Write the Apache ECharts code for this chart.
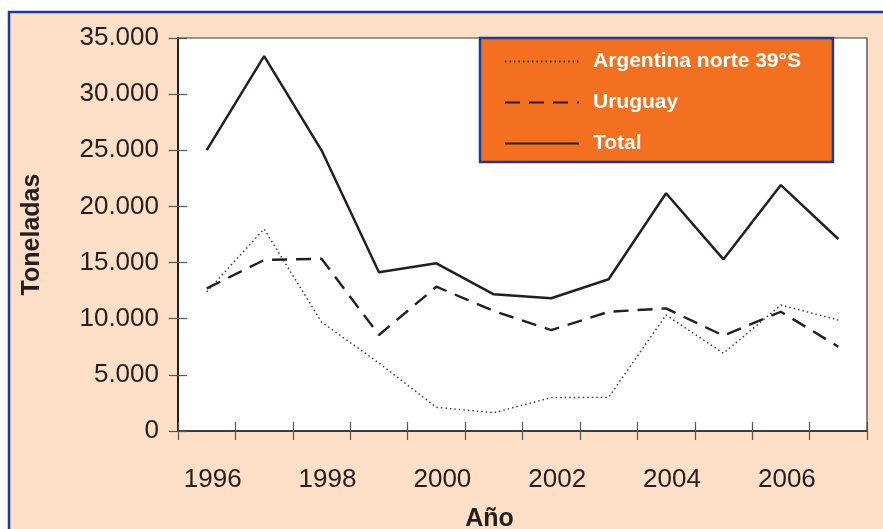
<!DOCTYPE html>
<html>
<head>
<meta charset="utf-8">
<script src="https://cdn.jsdelivr.net/npm/echarts@6/dist/echarts.min.js"></script>
<style>html,body{margin:0;padding:0;background:#fff;}#c{width:883px;height:529px;}</style>
</head>
<body>
<div id="c"></div>
<script>
var years = ['1996','1997','1998','1999','2000','2001','2002','2003','2004','2005','2006','2007'];
var argentina = [12400, 17990, 9700, 6050, 2110, 1630, 2970, 3000, 10330, 6920, 11220, 9880];
var uruguay   = [12700, 15230, 15340, 8550, 12850, 10690, 8990, 10620, 10920, 8490, 10620, 7510];
var total     = [25020, 33390, 25000, 14130, 14930, 12170, 11820, 13510, 21170, 15290, 21900, 17100];
var seriesNames = ['Argentina norte 39°S', 'Uruguay', 'Total'];
var yTitle = 'Toneladas';
var xTitle = 'Año';

var FONT = '"Liberation Sans", Arial, Helvetica, sans-serif';
var TXT = '#231f20';
function fmt(v){ return String(v).replace(/\B(?=(\d{3})+(?!\d))/g, '.'); }

var chart = echarts.init(document.getElementById('c'), null, {renderer:'canvas'});
chart.setOption({
  backgroundColor: '#ffffff',
  animation: false,
  graphic: [{
    type: 'rect', z: -100, silent: true,
    shape: {x: 9, y: 12, width: 900, height: 540},
    style: {fill: '#fddec6', stroke: '#1f3a8f', lineWidth: 2.5}
  }],
  grid: {left: 178, right: 16, top: 38, bottom: 98, show: true, containLabel: false, outerBoundsMode: 'none',
         backgroundColor: '#ffffff', borderColor: '#3a3a3a', borderWidth: 1.2},
  legend: {
    orient: 'vertical', left: 480, top: 38,
    data: seriesNames,
    backgroundColor: '#f37021', borderColor: '#1f3a8f', borderWidth: 2.5,
    padding: [13, 32, 8, 24],
    itemWidth: 74, itemHeight: 14, itemGap: 20,
    itemStyle: {opacity: 0},
    textStyle: {color: '#ffffff', fontFamily: FONT, fontWeight: 'bold', fontSize: 21, padding: [0,0,0,9]}
  },
  xAxis: [{
    type: 'category', data: years, position: 'bottom', boundaryGap: true,
    axisLine: {show: true, lineStyle: {color: TXT, width: 1.5}},
    axisTick: {show: true, interval: 0, length: 9, lineStyle: {color: '#555', width: 1.2}},
    axisLabel: {interval: 1, color: TXT, fontFamily: FONT, fontSize: 26, margin: 36, padding: [0,0,0,12]},
    name: xTitle, nameLocation: 'middle', nameGap: 76,
    nameTextStyle: {color: TXT, fontFamily: FONT, fontWeight: 'bold', fontSize: 25, padding: [0, 66, 0, 0]}
  }, {
    type: 'category', data: years, position: 'bottom', boundaryGap: true,
    axisLine: {show: false},
    axisTick: {show: true, inside: true, interval: 0, length: 9, lineStyle: {color: '#555', width: 1.2}},
    axisLabel: {show: false}
  }],
  yAxis: [{
    type: 'value', min: 0, max: 35000, interval: 5000, position: 'left',
    axisLine: {show: true, lineStyle: {color: TXT, width: 2}},
    axisTick: {show: true, length: 9, lineStyle: {color: '#555', width: 1.2}},
    splitLine: {show: false},
    axisLabel: {color: TXT, fontFamily: FONT, fontSize: 26, margin: 19, formatter: function(v){return fmt(v);}},
    name: yTitle, nameLocation: 'middle', nameGap: 133, nameRotate: 90,
    nameTextStyle: {color: TXT, fontFamily: FONT, fontWeight: 'bold', fontSize: 25}
  }, {
    type: 'value', min: 0, max: 35000, interval: 5000, position: 'left',
    axisLine: {show: false},
    axisTick: {show: true, inside: true, length: 9, lineStyle: {color: '#555', width: 1.2}},
    splitLine: {show: false},
    axisLabel: {show: false}
  }],
  series: [{
    name: seriesNames[0], type: 'line', data: argentina, symbol: 'none',
    lineStyle: {color: '#333333', width: 1.4, type: [1.5, 3]}, itemStyle: {color: '#333333'}
  }, {
    name: seriesNames[1], type: 'line', data: uruguay, symbol: 'none',
    lineStyle: {color: TXT, width: 2.4, type: [15, 9]}, itemStyle: {color: TXT}
  }, {
    name: seriesNames[2], type: 'line', data: total, symbol: 'none',
    lineStyle: {color: TXT, width: 2.5}, itemStyle: {color: TXT}
  }]
});
</script>
</body>
</html>
